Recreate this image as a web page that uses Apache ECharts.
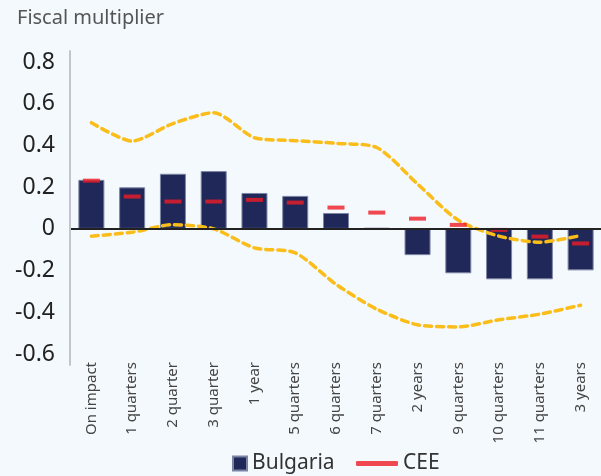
<!DOCTYPE html>
<html>
<head>
<meta charset="utf-8">
<script src="https://cdn.jsdelivr.net/npm/echarts@6/dist/echarts.min.js"></script>
<style>
  html, body { margin: 0; padding: 0; background: #f3f9fc; }
  #chart { width: 601px; height: 476px; }
</style>
</head>
<body>
<div id="chart"></div>
<script>
var categories = ['On impact', '1 quarters', '2 quarter', '3 quarter', '1 year', '5 quarters',
  '6 quarters', '7 quarters', '2 years', '9 quarters', '10 quarters', '11 quarters', '3 years'];
var bulgaria = [0.235, 0.199, 0.264, 0.277, 0.172, 0.158, 0.076, 0.005, -0.126, -0.213, -0.242, -0.242, -0.199];
var cee = [0.231, 0.155, 0.131, 0.131, 0.139, 0.126, 0.102, 0.078, 0.049, 0.019, -0.005, -0.037, -0.070];
var upperBand = [0.509, 0.421, 0.505, 0.557, 0.437, 0.423, 0.410, 0.390, 0.215, 0.041, -0.035, -0.064, -0.032];
var lowerBand = [-0.035, -0.016, 0.020, 0.0, -0.091, -0.115, -0.266, -0.385, -0.46, -0.47, -0.436, -0.409, -0.366];
var yTicks = { min: -0.6, max: 0.8, interval: 0.2 };

var chart = echarts.init(document.getElementById('chart'));
var font = 'Noto Sans';
var bandLine = {
  color: '#fbbd1a',
  width: 3.5,
  type: [7, 5],
  cap: 'round'
};

var option = {
  backgroundColor: '#f3f9fc',
  animation: false,
  textStyle: { fontFamily: font },
  title: {
    text: 'Fiscal multiplier',
    left: 12, top: 3,
    textStyle: { fontFamily: font, fontSize: 20, fontWeight: 'normal', color: '#555' }
  },
  legend: [
    {
      data: [{ name: 'Bulgaria', icon: 'rect' }],
      left: 227, top: 448,
      itemWidth: 14, itemHeight: 14, itemGap: 2,
      textStyle: { fontFamily: font, fontSize: 21, color: '#333' }
    },
    {
      data: [{ name: 'CEE', icon: 'roundRect' }],
      left: 351, top: 448,
      itemWidth: 42, itemHeight: 5,
      textStyle: { fontFamily: font, fontSize: 21, color: '#333' }
    }
  ],
  grid: [
    { left: 71, top: 62, width: 532, height: 292 },
    { left: 70, top: 51, width: 1, height: 314 }
  ],
  xAxis: [
    {
      type: 'category', data: categories, gridIndex: 0,
      axisLine: { show: false, onZero: false },
      axisTick: { show: false },
      axisLabel: { rotate: 90, margin: 8, fontSize: 15, color: '#444', fontFamily: font, interval: 0 }
    },
    { type: 'value', gridIndex: 1, show: false }
  ],
  yAxis: [
    {
      type: 'value', gridIndex: 0,
      min: yTicks.min, max: yTicks.max, interval: yTicks.interval,
      axisLine: { show: false },
      axisTick: { show: false },
      splitLine: { show: false },
      axisLabel: {
        fontSize: 23, color: '#222', margin: 16, fontFamily: font,
        formatter: function (v) { return Math.abs(v) < 1e-9 ? '0' : String(Math.round(v * 10) / 10); }
      }
    },
    {
      type: 'value', gridIndex: 1, min: 0, max: 1,
      axisLine: { show: true, lineStyle: { color: '#c2c6cb', width: 2 } },
      axisTick: { show: false }, axisLabel: { show: false }, splitLine: { show: false }
    }
  ],
  series: [
    {
      name: 'Bulgaria', type: 'bar', data: bulgaria, barWidth: 26,
      itemStyle: { color: '#1f2859', borderColor: '#7c84a3', borderWidth: 1 },
      markLine: {
        silent: true, symbol: 'none', label: { show: false },
        lineStyle: { color: '#222', width: 2, type: 'solid' },
        data: [{ yAxis: 0 }]
      },
      z: 2
    },
    {
      name: 'upper', type: 'line', data: upperBand, smooth: 0.25,
      symbol: 'none', lineStyle: bandLine, z: 3
    },
    {
      name: 'lower', type: 'line', data: lowerBand, smooth: 0.25,
      symbol: 'none', lineStyle: bandLine, z: 3
    },
    {
      name: 'CEE', type: 'scatter', data: cee,
      symbol: 'rect', symbolSize: [17, 4],
      itemStyle: { color: '#ee1c25' }, z: 4
    }
  ]
};
option && chart.setOption(option);
</script>
</body>
</html>
